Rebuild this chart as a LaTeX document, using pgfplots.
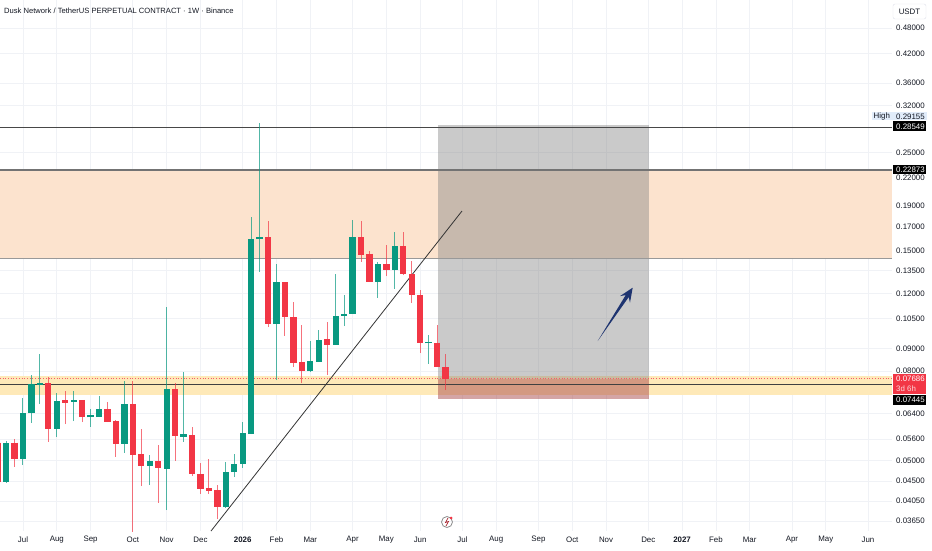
\documentclass[border=0pt]{standalone}
\usepackage{pgfplots}
\pgfplotsset{compat=1.18}
\usepackage{fontspec}
\setmainfont{Liberation Sans}
\definecolor{tvgreen}{RGB}{8,153,129}
\definecolor{tvred}{RGB}{242,54,69}
\definecolor{tvtext}{RGB}{19,23,34}
\definecolor{gridc}{RGB}{240,242,246}
\definecolor{zoneor}{RGB}{252,227,206}
\definecolor{zoneye}{RGB}{254,233,184}
\definecolor{navyarrow}{RGB}{30,52,112}
\definecolor{hibg}{RGB}{225,236,250}
\definecolor{stopc}{RGB}{170,75,75}
\newcommand{\tf}{\fontsize{7.9}{9}\selectfont}
\begin{document}
\begin{tikzpicture}
\path[use as bounding box] (0pt,-19pt) rectangle (932pt,531pt);
\begin{axis}[
  at={(0pt,0pt)}, anchor=south west,
  scale only axis, width=892pt, height=531pt,
  xmin=-2.7219, xmax=102.84,
  ymode=log, ymin=0.034665, ymax=0.55561,
  axis line style={draw=none},
  major tick length=0pt, minor tick length=0pt,
  clip mode=individual,
  grid=major, grid style={gridc, line width=0.8pt},
  xtick={0,4,8,13,17,21,26,30,34,39,43,47,52,56,61,65,69,74,78,82,86,91,95,100},
  xticklabels={Jul,Aug,Sep,Oct,Nov,Dec,\textbf{2026},Feb,Mar,Apr,May,Jun,Jul,Aug,Sep,Oct,Nov,Dec,\textbf{2027},Feb,Mar,Apr,May,Jun},
  xticklabel style={font=\tf, text=tvtext, anchor=center, inner sep=0pt, yshift=-9pt},
  ytick={0.0365,0.0405,0.045,0.05,0.056,0.064,0.08,0.09,0.105,0.12,0.135,0.15,0.17,0.19,0.22,0.25,0.32,0.36,0.42,0.48},
  yticklabels={0.03650,0.04050,0.04500,0.05000,0.05600,0.06400,0.08000,0.09000,0.10500,0.12000,0.13500,0.15000,0.17000,0.19000,0.22000,0.25000,0.32000,0.36000,0.42000,0.48000},
  yticklabel pos=right,
  yticklabel style={font=\tf, text=tvtext, anchor=west, inner sep=0pt, xshift=4pt},
  unbounded coords=jump,
]
% zones
\fill[zoneor] (axis cs:-2.7219,0.1443) rectangle (axis cs:102.84,0.2287);
\fill[zoneye] (axis cs:-2.7219,0.07055) rectangle (axis cs:102.84,0.07791);
% position tool
\fill[black!50, opacity=0.42] (axis cs:49.08,0.07686) rectangle (axis cs:74.08,0.2890);
\fill[stopc, opacity=0.5] (axis cs:49.08,0.0691) rectangle (axis cs:74.08,0.07686);
% horizontal levels
\draw[black!72, line width=0.9pt] (axis cs:-2.7219,0.28549) -- (axis cs:102.84,0.28549);
\draw[black!55, line width=1.8pt] (axis cs:-2.7219,0.22873) -- (axis cs:102.84,0.22873);
\draw[black!40, line width=0.8pt] (axis cs:-2.7219,0.1443) -- (axis cs:102.84,0.1443);
\draw[black!75, line width=1pt] (axis cs:-2.7219,0.07445) -- (axis cs:102.84,0.07445);
\draw[tvred!80, line width=0.7pt, dotted] (axis cs:-2.7219,0.07686) -- (axis cs:102.84,0.07686);
% trend line
\draw[black!80, line width=0.8pt] (axis cs:22.25,0.03466) -- (axis cs:51.95,0.1845);
% green wicks
\addplot[tvgreen, opacity=0.7, line width=1pt, mark=none] coordinates {
(-2,0.0446)(-2,0.0556)(nan,nan)
(0,0.04895)(0,0.06956)(nan,nan)
(1,0.0610)(1,0.07831)(nan,nan)
(2,0.06731)(2,0.0874)(nan,nan)
(4,0.05665)(4,0.07129)(nan,nan)
(6,0.06158)(6,0.07204)(nan,nan)
(8,0.05969)(8,0.06557)(nan,nan)
(9,0.06288)(9,0.07018)(nan,nan)
(12,0.05211)(12,0.0759)(nan,nan)
(15,0.04406)(15,0.05157)(nan,nan)
(17,0.03869)(17,0.11174)(nan,nan)
(19,0.0553)(19,0.07955)(nan,nan)
(24,0.0391)(24,0.04972)(nan,nan)
(25,0.04596)(25,0.05184)(nan,nan)
(26,0.04819)(26,0.06126)(nan,nan)
(27,0.05754)(27,0.1788)(nan,nan)
(28,0.13415)(28,0.2916)(nan,nan)
(30,0.07629)(30,0.13988)(nan,nan)
(34,0.07955)(34,0.09355)(nan,nan)
(35,0.08383)(35,0.09908)(nan,nan)
(37,0.09162)(37,0.13275)(nan,nan)
(38,0.10117)(38,0.11896)(nan,nan)
(39,0.10772)(39,0.17603)(nan,nan)
(42,0.11711)(42,0.14135)(nan,nan)
(44,0.12275)(44,0.16533)(nan,nan)
(48,0.08296)(48,0.09653)
};
% green bodies
\addplot[tvgreen, line width=6.3pt, mark=none] coordinates {
(-2,0.04483)(-2,0.05499)(nan,nan)
(0,0.0505)(0,0.06432)(nan,nan)
(1,0.06421)(1,0.07472)(nan,nan)
(2,0.0745)(2,0.0753)(nan,nan)
(4,0.05907)(4,0.06837)(nan,nan)
(6,0.0681)(6,0.0688)(nan,nan)
(8,0.0628)(8,0.0634)(nan,nan)
(9,0.06288)(9,0.06557)(nan,nan)
(12,0.05462)(12,0.06731)(nan,nan)
(15,0.04869)(15,0.04998)(nan,nan)
(17,0.04793)(17,0.0728)(nan,nan)
(19,0.0567)(19,0.0574)(nan,nan)
(24,0.0393)(24,0.04718)(nan,nan)
(25,0.04718)(25,0.0492)(nan,nan)
(26,0.0492)(26,0.05784)(nan,nan)
(27,0.05754)(27,0.1594)(nan,nan)
(28,0.1592)(28,0.1612)(nan,nan)
(30,0.10223)(30,0.12732)(nan,nan)
(34,0.07997)(34,0.08427)(nan,nan)
(35,0.08383)(35,0.09404)(nan,nan)
(37,0.09162)(37,0.1066)(nan,nan)
(38,0.1066)(38,0.1078)(nan,nan)
(39,0.10772)(39,0.16107)(nan,nan)
(42,0.12732)(42,0.13988)(nan,nan)
(44,0.13556)(44,0.15367)(nan,nan)
(48,0.0924)(48,0.0932)
};
% red wicks
\addplot[tvred, opacity=0.7, line width=1pt, mark=none] coordinates {
(-3,0.0446)(-3,0.0556)(nan,nan)
(-1,0.04844)(-1,0.05606)(nan,nan)
(3,0.05528)(3,0.0775)(nan,nan)
(5,0.06062)(5,0.07204)(nan,nan)
(7,0.06126)(7,0.06873)(nan,nan)
(10,0.06126)(10,0.06802)(nan,nan)
(11,0.05103)(11,0.0619)(nan,nan)
(13,0.03448)(13,0.0759)(nan,nan)
(14,0.04383)(14,0.05907)(nan,nan)
(16,0.04013)(16,0.0543)(nan,nan)
(18,0.04998)(18,0.07511)(nan,nan)
(20,0.0462)(20,0.05969)(nan,nan)
(21,0.04206)(21,0.04946)(nan,nan)
(22,0.04206)(22,0.0505)(nan,nan)
(23,0.03691)(23,0.04406)(nan,nan)
(29,0.10064)(29,0.17511)(nan,nan)
(31,0.09603)(31,0.12732)(nan,nan)
(32,0.08166)(32,0.11469)(nan,nan)
(33,0.07511)(33,0.1017)(nan,nan)
(36,0.07831)(36,0.10331)(nan,nan)
(40,0.14135)(40,0.17511)(nan,nan)
(41,0.12732)(41,0.14971)(nan,nan)
(43,0.13137)(43,0.15447)(nan,nan)
(45,0.13206)(45,0.16533)(nan,nan)
(46,0.11409)(46,0.14209)(nan,nan)
(47,0.08786)(47,0.12211)(nan,nan)
(49,0.08166)(49,0.1017)(nan,nan)
(50,0.07242)(50,0.0874)
};
% red bodies
\addplot[tvred, line width=6.3pt, mark=none] coordinates {
(-3,0.05499)(-3,0.04483)(nan,nan)
(-1,0.05499)(-1,0.0505)(nan,nan)
(3,0.07511)(3,0.05907)(nan,nan)
(5,0.0686)(5,0.0678)(nan,nan)
(7,0.06873)(7,0.06288)(nan,nan)
(10,0.06557)(10,0.06126)(nan,nan)
(11,0.06158)(11,0.05462)(nan,nan)
(13,0.06731)(13,0.05157)(nan,nan)
(14,0.05184)(14,0.04869)(nan,nan)
(16,0.04998)(16,0.04819)(nan,nan)
(18,0.0728)(18,0.05694)(nan,nan)
(20,0.05724)(20,0.04669)(nan,nan)
(21,0.04669)(21,0.04315)(nan,nan)
(22,0.04337)(22,0.0427)(nan,nan)
(23,0.04292)(23,0.0393)(nan,nan)
(29,0.16107)(29,0.10223)(nan,nan)
(31,0.12732)(31,0.10604)(nan,nan)
(32,0.10604)(32,0.08339)(nan,nan)
(33,0.08383)(33,0.07997)(nan,nan)
(36,0.09453)(36,0.09162)(nan,nan)
(40,0.16107)(40,0.14661)(nan,nan)
(41,0.14738)(41,0.12732)(nan,nan)
(43,0.13988)(43,0.13556)(nan,nan)
(45,0.15367)(45,0.13275)(nan,nan)
(46,0.13275)(46,0.11896)(nan,nan)
(47,0.11896)(47,0.09258)(nan,nan)
(49,0.09258)(49,0.08166)(nan,nan)
(50,0.08166)(50,0.07686)
};
\end{axis}
% title
\node[anchor=west, inner sep=0pt, text=tvtext, font=\fontsize{7.6}{9}\selectfont] at (4pt,520pt) {Dusk Network / TetherUS PERPETUAL CONTRACT · 1W · Binance};
% USDT box
\node[draw={rgb,255:red,220;green,223;blue,232}, rounded corners=2pt, text=tvtext, font=\tf, inner sep=0pt, minimum width=33pt, minimum height=15pt] at (909.5pt,519.5pt) {USDT};
% High label
\fill[hibg] (872pt,410.5pt) rectangle (927pt,418.5pt);
\node[anchor=west, inner sep=0pt, text=tvtext, font=\tf] at (873.5pt,414.5pt) {High};
\node[anchor=west, inner sep=0pt, text=tvtext, font=\tf] at (896pt,414.5pt) {0.29155};
% price boxes
\fill[black] (893pt,399.5pt) rectangle (926pt,410pt);
\node[anchor=west, inner sep=0pt, text=white, font=\tf] at (896pt,404.7pt) {0.28549};
\fill[black] (893pt,357pt) rectangle (926pt,366pt);
\node[anchor=west, inner sep=0pt, text=white, font=\tf] at (896pt,361.5pt) {0.22873};
\fill[tvred] (893pt,137pt) rectangle (926pt,157pt);
\node[anchor=west, inner sep=0pt, text=white, font=\tf] at (896pt,152.5pt) {0.07686};
\node[anchor=west, inner sep=0pt, text=white!80!tvred, font=\tf] at (896pt,142pt) {3d 6h};
\fill[black] (893pt,126pt) rectangle (926pt,136pt);
\node[anchor=west, inner sep=0pt, text=white, font=\tf] at (896pt,131pt) {0.07445};
% arrow
\fill[navyarrow] (597.7pt,190pt) -- (628.7pt,233.9pt) -- (630.0pt,228.3pt) -- (632.7pt,243.3pt) -- (620.0pt,234.9pt) -- (625.7pt,235.9pt) -- cycle;
% logo
\draw[black!45, line width=0.8pt] (447pt,9pt) circle (5.5pt);
\draw[tvred!70!black, line width=0.7pt] (448pt,13pt) -- (445.5pt,8.5pt) -- (448.5pt,9.5pt) -- (446pt,5pt);
\fill[tvred] (451pt,13pt) circle (1.5pt);
\end{tikzpicture}
\end{document}
